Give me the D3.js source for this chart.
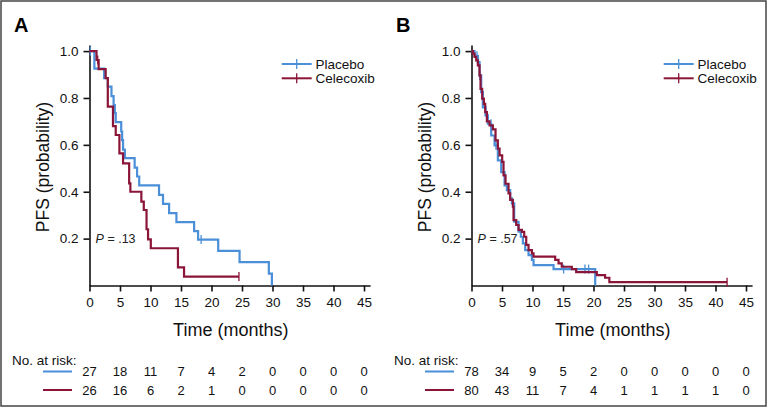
<!DOCTYPE html>
<html><head><meta charset="utf-8">
<script src="https://cdn.jsdelivr.net/npm/d3@7"></script>
<style>body{margin:0;background:#fff;} svg{display:block;font-family:"Liberation Sans",Arial,sans-serif;}</style>
</head><body>
<svg id="c" width="768" height="408"></svg>
<script>
// ---- data ----
const xTicks = [0,5,10,15,20,25,30,35,40,45];
const yTicks = [0.2,0.4,0.6,0.8,1.0];
const seriesNames = ["Placebo","Celecoxib"];
const colors = ["#4a8fd8","#8b1538"];

// Panel A: step points [months, PFS probability]
const aPlacebo = [[0,1],[0.8,0.925],[2.4,0.885],[3.0,0.848],[3.6,0.808],[3.95,0.77],[4.15,0.735],[4.3,0.697],[5.2,0.657],[5.35,0.62],[5.5,0.58],[5.8,0.543],[7.4,0.503],[7.8,0.465],[8.15,0.427],[11.4,0.387],[12.05,0.348],[13.05,0.309],[14.25,0.27],[17.15,0.232],[17.8,0.196],[21.1,0.148],[24.6,0.1],[29.4,0.051],[29.9,0]];
const aPlaceboCensor = [0.15,18.3];
const aCelecoxib = [[0,1],[1.15,0.962],[1.5,0.923],[2.65,0.885],[3.0,0.763],[3.85,0.68],[4.3,0.642],[4.9,0.564],[5.5,0.521],[6.5,0.436],[6.7,0.4],[8.5,0.358],[8.9,0.322],[9.35,0.24],[9.6,0.197],[10.05,0.159],[14.5,0.077],[15.5,0.038],[24.5,0.038]];
const aCelecoxibCensor = [1.35,24.5];
const aRiskPlacebo = [27,18,11,7,4,2,0,0,0,0];
const aRiskCelecoxib = [26,16,6,2,1,0,0,0,0,0];
const aP = ".13";

// Panel B
const bPlacebo = [[0,1],[0.5,0.98],[1.04,0.953],[1.32,0.896],[1.59,0.825],[1.86,0.76],[2.3,0.726],[2.68,0.69],[3.23,0.64],[3.78,0.598],[4.32,0.534],[4.87,0.484],[5.42,0.427],[5.8,0.407],[6.34,0.372],[6.62,0.35],[7.0,0.272],[7.71,0.23],[8.09,0.208],[8.42,0.18],[8.8,0.151],[9.35,0.13],[9.9,0.109],[10.17,0.087],[13.45,0.07],[20.28,0]];
const bPlaceboCensor = [0.9,1.15,1.35,3.2,4.0,4.25,15.1,18.6,19.2];
const bCelecoxib = [[0,1],[0.22,0.989],[0.5,0.975],[0.77,0.96],[1.04,0.939],[1.32,0.896],[1.48,0.839],[1.75,0.797],[2.03,0.775],[2.25,0.74],[2.52,0.7],[2.96,0.683],[3.5,0.666],[3.94,0.619],[4.32,0.584],[4.6,0.555],[5.03,0.527],[5.25,0.47],[5.58,0.434],[6.07,0.393],[6.34,0.365],[6.78,0.336],[6.89,0.279],[7.33,0.258],[7.71,0.237],[8.26,0.229],[8.64,0.208],[8.97,0.173],[9.35,0.151],[9.9,0.137],[10.17,0.123],[13.72,0.109],[14.27,0.094],[14.8,0.08],[16.45,0.07],[17.16,0.057],[20.55,0.044],[21.9,0.033],[22.6,0.014],[41.9,0.014]];
const bCelecoxibCensor = [41.9];
const bRiskPlacebo = [78,34,9,5,2,0,0,0,0,0];
const bRiskCelecoxib = [80,43,11,7,4,1,1,1,1,0];
const bP = ".57";

const svg = d3.select("#c");
svg.append("rect").attr("x",1).attr("y",1).attr("width",765).attr("height",405)
  .attr("fill","none").attr("stroke","#444").attr("stroke-width",1.5);

function survAt(steps,t){let v=1;for(const s of steps){if(s[0]<=t)v=s[1];}return v;}

function panel(ox, label, curves, censors, risks, pval){
  const g = svg.append("g").attr("transform",`translate(${ox},0)`);
  const x = d3.scaleLinear().domain([0,46]).range([89.5,370.1]);
  const y = d3.scaleLinear().domain([0,1.026]).range([285.5,45]);

  g.append("text").attr("x",14).attr("y",31.5).attr("font-size",20).attr("font-weight","bold").text(label);

  const ya = g.append("g").attr("transform",`translate(${x(0)},0)`)
    .call(d3.axisLeft(y).tickValues(yTicks).tickFormat(d3.format(".1f")).tickSize(6).tickPadding(5).tickSizeOuter(0));
  const xa = g.append("g").attr("transform",`translate(0,${y(0)})`)
    .call(d3.axisBottom(x).tickValues(xTicks).tickSize(6).tickPadding(6).tickSizeOuter(0));
  [ya,xa].forEach(a=>{
    a.selectAll("path,line").attr("stroke","#111").attr("stroke-width",1.6);
    a.selectAll("text").attr("font-size",13.5).attr("fill","#111").attr("font-family","Liberation Sans, Arial, sans-serif");
  });

  g.append("text").attr("transform",`translate(49,167) rotate(-90)`).attr("text-anchor","middle")
    .attr("font-size",17.5).attr("fill","#111").text("PFS (probability)");
  g.append("text").attr("x",x(23)+1).attr("y",336).attr("text-anchor","middle")
    .attr("font-size",18).attr("fill","#111").text("Time (months)");

  const line = d3.line().x(d=>x(d[0])).y(d=>y(d[1])).curve(d3.curveStepAfter);
  curves.forEach((c,i)=>{
    g.append("path").attr("d",line(c)).attr("fill","none").attr("stroke",colors[i]).attr("stroke-width",2.2);
    censors[i].forEach(t=>{
      const v = survAt(c,t);
      g.append("line").attr("x1",x(t)).attr("x2",x(t)).attr("y1",y(v)-4.5).attr("y2",y(v)+4.5)
        .attr("stroke",colors[i]).attr("stroke-width",1.3);
    });
  });

  const pt = g.append("text").attr("x",x(1)).attr("y",y(0.2)+4).attr("font-size",12.5).attr("fill","#222");
  pt.append("tspan").attr("font-style","italic").text("P");
  pt.append("tspan").text(" = " + pval);

  // legend
  seriesNames.forEach((n,i)=>{
    const ly = 64 + i*14.3;
    g.append("line").attr("x1",281.7).attr("x2",311.7).attr("y1",ly).attr("y2",ly).attr("stroke",colors[i]).attr("stroke-width",2);
    g.append("line").attr("x1",296.7).attr("x2",296.7).attr("y1",ly-5).attr("y2",ly+5).attr("stroke",colors[i]).attr("stroke-width",1.3);
    g.append("text").attr("x",315.5).attr("y",ly+4.5).attr("font-size",13.5).attr("fill","#111").text(n);
  });

  // at risk
  g.append("text").attr("x",12).attr("y",365).attr("font-size",13.5).attr("fill","#111").text("No. at risk:");
  risks.forEach((r,i)=>{
    const ry = 371.5 + i*18.5;
    g.append("line").attr("x1",43).attr("x2",72).attr("y1",ry).attr("y2",ry).attr("stroke",colors[i]).attr("stroke-width",2);
    g.selectAll(null).data(r).enter().append("text")
      .attr("x",(d,j)=>x(xTicks[j])).attr("y",ry+4.8).attr("text-anchor","middle")
      .attr("font-size",13).attr("fill","#111").text(d=>d);
  });
}

panel(0,"A",[aPlacebo,aCelecoxib],[aPlaceboCensor,aCelecoxibCensor],[aRiskPlacebo,aRiskCelecoxib],aP);
panel(382,"B",[bPlacebo,bCelecoxib],[bPlaceboCensor,bCelecoxibCensor],[bRiskPlacebo,bRiskCelecoxib],bP);
</script>
</body></html>
